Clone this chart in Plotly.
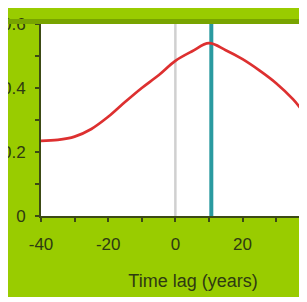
import plotly.graph_objects as go

# ---- data ----
lag = [-40, -35, -30, -25, -20, -15, -10, -5, 0, 5, 10, 15, 20, 25, 30, 35, 40]
corr = [0.235, 0.238, 0.248, 0.272, 0.31, 0.356, 0.40, 0.44, 0.485, 0.515, 0.54,
        0.518, 0.49, 0.455, 0.415, 0.365, 0.30]
zero_lag = [0, 0]
peak_lag = [10.7, 10.7]
vline_y = [0, 0.6]
x_tickvals = [-40, -20, 0, 20, 40]
x_ticktext = ["-40", "-20", "0", "20", "40"]
y_tickvals = [0, 0.2, 0.4, 0.6]
y_ticktext = ["0", "0.2", "0.4", "0.6"]

W, H = 337, 289
ML, MR, MT, MB = 33, 0, 16, 81
GREEN = "#99cc00"
DARK = "#2e3a12"
AX = "#3c4a14"

fig = go.Figure()
fig.add_trace(go.Scatter(x=zero_lag, y=vline_y, mode="lines",
                         line=dict(color="#d0d0d0", width=2.5), hoverinfo="skip"))
fig.add_trace(go.Scatter(x=peak_lag, y=vline_y, mode="lines",
                         line=dict(color="#2a9aa0", width=4), hoverinfo="skip"))
fig.add_trace(go.Scatter(x=lag, y=corr, mode="lines", line_shape="spline",
                         line=dict(color="#dd3030", width=2.7)))

pw = W - ML - MR
ph = H - MT - MB
def px_x(p):
    return (p - ML) / pw
def px_y(p):
    return (H - MB - p) / ph

shapes = [
    # darker band above plot
    dict(type="rect", xref="paper", yref="paper", x0=px_x(0), x1=px_x(W), y0=px_y(MT), y1=px_y(11),
         fillcolor="#78a400", line_width=0, layer="above"),
]

fig.update_layout(
    width=W, height=H,
    margin=dict(l=ML, r=MR, t=MT, b=MB, pad=0, autoexpand=False),
    paper_bgcolor=GREEN, plot_bgcolor="white",
    showlegend=False,
    font=dict(family="Liberation Sans, Arial, sans-serif", size=17, color=DARK),
    shapes=shapes,
    xaxis=dict(range=[-40, 50.5], tickvals=x_tickvals, ticktext=x_ticktext,
               automargin=False, showgrid=False, zeroline=False,
               showline=True, linecolor=AX, linewidth=2,
               ticks="outside", ticklen=4, tickwidth=2, tickcolor=AX,
               minor=dict(dtick=10, ticks="outside", ticklen=4, tickwidth=2, tickcolor=AX),
               ticklabelstandoff=8,
               title=dict(text="Time lag (years)", font=dict(size=18), standoff=21)),
    yaxis=dict(range=[0, 0.6], tickvals=y_tickvals, ticktext=y_ticktext,
               automargin=False, showgrid=False, zeroline=False,
               showline=True, linecolor=AX, linewidth=2,
               ticks="outside", ticklen=4, tickwidth=2, tickcolor=AX,
               minor=dict(dtick=0.1, ticks="outside", ticklen=4, tickwidth=2, tickcolor=AX),
               ticklabelstandoff=6),
)

fig.write_html("out.html")
